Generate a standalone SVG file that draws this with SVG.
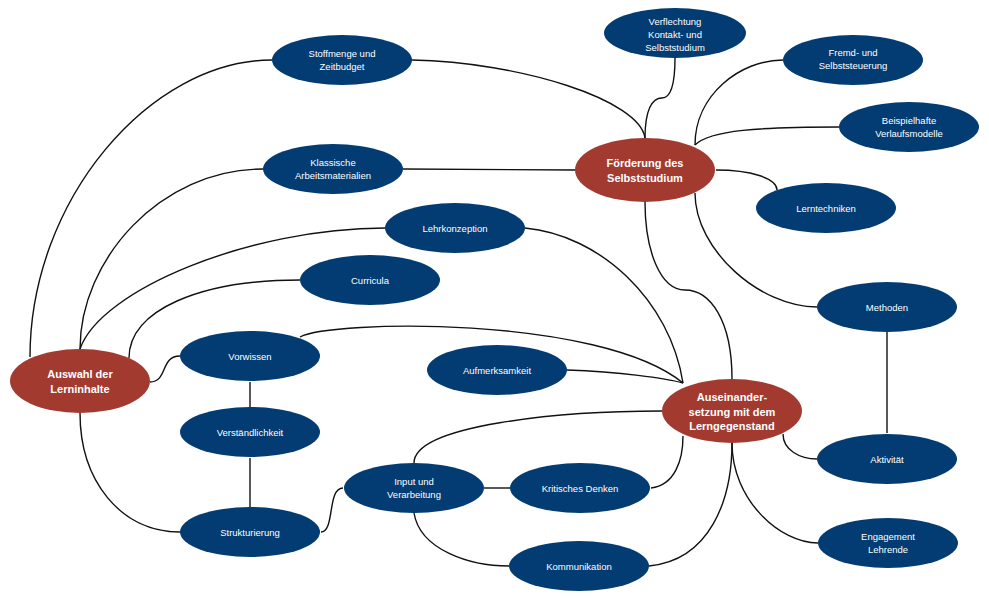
<svg xmlns="http://www.w3.org/2000/svg" width="989" height="600" viewBox="0 0 989 600">
<style>
.b{fill:#023c72}
.r{fill:#a33a30}
.t{font-family:"Liberation Sans",Arial,sans-serif;font-size:9.5px;fill:#ffffff;text-anchor:middle}
.h{font-family:"Liberation Sans",Arial,sans-serif;font-size:11px;font-weight:bold;fill:#ffffff;text-anchor:middle}
#connectors path{fill:none;stroke:#111;stroke-width:1.4}
</style>
<rect width="989" height="600" fill="#ffffff"/>
<g id="connectors">
<path d="M30,357 C30,200 150,60 272,60"/>
<path d="M412,60 C520,62 640,100 645,138"/>
<path d="M80,349 C80,260 160,169 263,169"/>
<path d="M403,169 L575,170"/>
<path d="M80,349 C100,290 250,228 385,228"/>
<path d="M525,228 C600,235 670,300 683,383"/>
<path d="M129,358 C129,310 200,280 300,280"/>
<path d="M150,382 C168,382 160,356 180,356"/>
<path d="M300,337 C330,320 600,315 683,383"/>
<path d="M250,382 L250,407"/>
<path d="M250,458 L250,507"/>
<path d="M80,413 C80,480 120,532 180,532"/>
<path d="M321,532 C335,532 327,488 343,488"/>
<path d="M414,463 C414,425 560,411 662,411"/>
<path d="M484,488 L510,488"/>
<path d="M651,488 C675,485 683,460 683,436"/>
<path d="M414,513 C420,550 470,566 509,566"/>
<path d="M649,566 C710,560 732,500 732,443"/>
<path d="M732,443 C732,500 780,543 818,543"/>
<path d="M783,434 C783,450 800,459 817,459"/>
<path d="M887,332 L887,433"/>
<path d="M695,193 C695,250 760,307 817,307"/>
<path d="M645,202 C645,250 660,290 685,290 C710,290 732,320 732,379"/>
<path d="M645,138 C645,110 652,98 662,98 C672,98 675,80 675,58"/>
<path d="M695,145 C695,95 740,60 783,60"/>
<path d="M695,145 C710,130 760,127 839,127"/>
<path d="M716,170 C750,170 777,178 777,190"/>
<path d="M567,370 C620,372 665,378 683,383"/>
</g>
<g id="stoffmenge"><ellipse class="b" cx="342" cy="60" rx="70" ry="25"/><text class="t" x="342" y="57">Stoffmenge und</text><text class="t" x="342" y="70">Zeitbudget</text></g>
<g id="klassische"><ellipse class="b" cx="333" cy="169" rx="70" ry="25"/><text class="t" x="333" y="166">Klassische</text><text class="t" x="333" y="179">Arbeitsmaterialien</text></g>
<g id="lehrkonzeption"><ellipse class="b" cx="455" cy="228" rx="70" ry="25"/><text class="t" x="455" y="231.5">Lehrkonzeption</text></g>
<g id="curricula"><ellipse class="b" cx="370" cy="280" rx="70" ry="25"/><text class="t" x="370" y="283.5">Curricula</text></g>
<g id="foerderung"><ellipse class="r" cx="645" cy="170" rx="70" ry="32"/><text class="h" x="645" y="167">Förderung des</text><text class="h" x="645" y="182">Selbststudium</text></g>
<g id="verflechtung"><ellipse class="b" cx="675" cy="33" rx="71" ry="25"/><text class="t" x="675" y="24.5">Verflechtung</text><text class="t" x="675" y="37.5">Kontakt- und</text><text class="t" x="675" y="50.5">Selbststudium</text></g>
<g id="fremd"><ellipse class="b" cx="853" cy="60" rx="70" ry="25"/><text class="t" x="853" y="56">Fremd- und</text><text class="t" x="853" y="69">Selbststeuerung</text></g>
<g id="beispielhafte"><ellipse class="b" cx="909" cy="127" rx="70" ry="25"/><text class="t" x="909" y="124">Beispielhafte</text><text class="t" x="909" y="137">Verlaufsmodelle</text></g>
<g id="lerntechniken"><ellipse class="b" cx="826" cy="208" rx="70" ry="25"/><text class="t" x="826" y="211.5">Lerntechniken</text></g>
<g id="methoden"><ellipse class="b" cx="887" cy="307" rx="70" ry="25"/><text class="t" x="887" y="310.5">Methoden</text></g>
<g id="aktivitaet"><ellipse class="b" cx="887" cy="459" rx="70" ry="25"/><text class="t" x="887" y="462.5">Aktivität</text></g>
<g id="engagement"><ellipse class="b" cx="888" cy="543" rx="70" ry="25"/><text class="t" x="888" y="539.5">Engagement</text><text class="t" x="888" y="552.5">Lehrende</text></g>
<g id="auseinandersetzung"><ellipse class="r" cx="732" cy="411" rx="70" ry="32"/><text class="h" x="732" y="401">Auseinander-</text><text class="h" x="732" y="415.5">setzung mit dem</text><text class="h" x="732" y="430">Lerngegenstand</text></g>
<g id="aufmerksamkeit"><ellipse class="b" cx="497" cy="370" rx="70" ry="25"/><text class="t" x="497" y="373.5">Aufmerksamkeit</text></g>
<g id="kritisches"><ellipse class="b" cx="580" cy="488" rx="70" ry="25"/><text class="t" x="580" y="491.5">Kritisches  Denken</text></g>
<g id="kommunikation"><ellipse class="b" cx="579" cy="566" rx="70" ry="25"/><text class="t" x="579" y="569.5">Kommunikation</text></g>
<g id="input"><ellipse class="b" cx="414" cy="488" rx="70" ry="25"/><text class="t" x="414" y="485">Input  und</text><text class="t" x="414" y="498">Verarbeitung</text></g>
<g id="vorwissen"><ellipse class="b" cx="250" cy="356" rx="70" ry="25"/><text class="t" x="250" y="359.5">Vorwissen</text></g>
<g id="verstaendlichkeit"><ellipse class="b" cx="250" cy="432" rx="70" ry="25"/><text class="t" x="250" y="435.5">Verständlichkeit</text></g>
<g id="strukturierung"><ellipse class="b" cx="250" cy="532" rx="70" ry="25"/><text class="t" x="250" y="535.5">Strukturierung</text></g>
<g id="auswahl"><ellipse class="r" cx="80" cy="381" rx="70" ry="32"/><text class="h" x="80" y="378">Auswahl der</text><text class="h" x="80" y="393">Lerninhalte</text></g>
</svg>
